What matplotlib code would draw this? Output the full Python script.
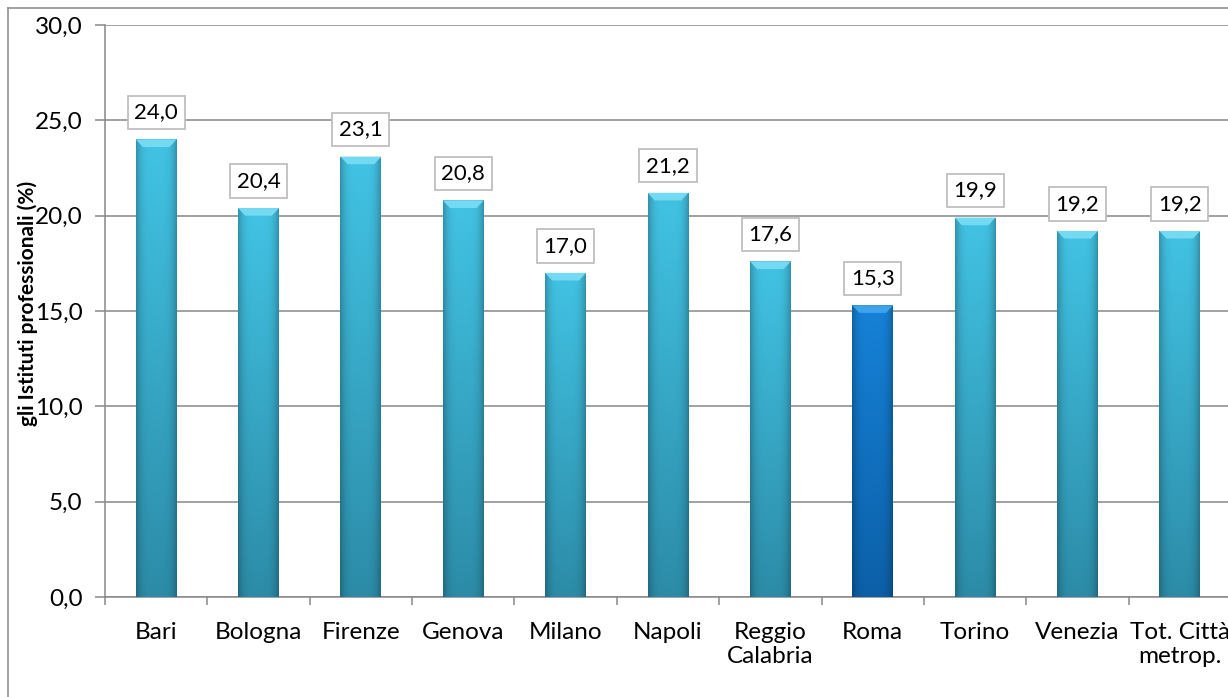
import numpy as np
import matplotlib
matplotlib.use("Agg")
import matplotlib.pyplot as plt
from matplotlib.patches import Polygon
from matplotlib.lines import Line2D

categories = ["Bari", "Bologna", "Firenze", "Genova", "Milano", "Napoli",
              "Reggio\nCalabria", "Roma", "Torino", "Venezia", "Tot. Città\nmetrop."]
values = [24.0, 20.4, 23.1, 20.8, 17.0, 21.2, 17.6, 15.3, 19.9, 19.2, 19.2]
value_labels = ["24,0", "20,4", "23,1", "20,8", "17,0", "21,2", "17,6", "15,3", "19,9", "19,2", "19,2"]
highlight = "Roma"
y_ticks = [0, 5, 10, 15, 20, 25, 30]
y_tick_labels = ["0,0", "5,0", "10,0", "15,0", "20,0", "25,0", "30,0"]
y_label = "gli Istituti professionali (%)"

plt.rcParams['font.family'] = ['Lato', 'DejaVu Sans']

fig = plt.figure(figsize=(12.28, 6.97), dpi=100)
ax = fig.add_axes([105 / 1228, 1 - 597 / 697, 1126 / 1228, (597 - 25) / 697])

x = np.arange(len(categories))
width = 0.4
ax.set_xlim(-0.5, len(categories) - 0.5)
ax.set_ylim(0, 30)


def grad_image(top, bottom, n=64):
    top = np.array(matplotlib.colors.to_rgb(top))
    bottom = np.array(matplotlib.colors.to_rgb(bottom))
    t = np.linspace(0, 1, n)[:, None]
    col = top[None, :] * (1 - t) + bottom[None, :] * t  # n x 3
    u = np.linspace(-1, 1, n)
    horiz = 1 - 0.25 * np.abs(u) ** 4
    img = col[:, None, :] * horiz[None, :, None]
    return np.clip(img, 0, 1)


grid_c = "#888888"
ax.set_yticks(y_ticks)
ax.set_yticklabels(y_tick_labels)
ax.yaxis.grid(True, color=grid_c, linewidth=1.1)
ax.set_axisbelow(True)

for i, (xi, v, cat) in enumerate(zip(x, values, categories)):
    if cat == highlight:
        top_c, bot_c, bevel_c = "#1682d8", "#0c60a8", "#3fa3ea"
    else:
        top_c, bot_c, bevel_c = "#42c3e4", "#2c8ca8", "#74d9f2"
    bars = ax.bar(xi, v, width, color="none", edgecolor="none", zorder=3)
    rect = bars[0]
    img = grad_image(top_c, bot_c)
    im = ax.imshow(img, extent=[xi - width / 2, xi + width / 2, 0, v],
                   aspect="auto", zorder=3, interpolation="bilinear")
    im.set_clip_path(rect)
    # top bevel
    bx = 0.07
    by = 0.4
    bevel = Polygon([[xi - width / 2, v], [xi + width / 2, v],
                     [xi + width / 2 - bx, v - by], [xi - width / 2 + bx, v - by]],
                    closed=True, facecolor=bevel_c, edgecolor="none", zorder=4)
    ax.add_patch(bevel)
    ax.annotate(value_labels[i], xy=(xi, v), xytext=(0, 27),
                textcoords="offset pixels", ha="center", va="center",
                fontsize=16, color="black", zorder=6,
                bbox=dict(boxstyle="square,pad=0.3", fc="white", ec="#bfbfbf", lw=1.3))

ax.set_xticks(x)
ax.set_xticklabels(categories, fontsize=17.5, linespacing=1.2)
ax.set_xticks(np.arange(-0.5, len(categories), 1), minor=True)
ax.tick_params(axis="x", which="major", length=0, pad=18)
ax.tick_params(axis="x", which="minor", length=6, color=grid_c, width=1.1)
ax.tick_params(axis="y", length=7, color=grid_c, width=1.1, labelsize=17.5, pad=9)

for s in ["top", "right"]:
    ax.spines[s].set_visible(False)
for s in ["left", "bottom"]:
    ax.spines[s].set_color(grid_c)
    ax.spines[s].set_linewidth(1.1)

fig.text(28 / 1228, 1 - 303 / 697, y_label, rotation=90, ha="center", va="center",
         fontsize=15, fontweight="bold")

# outer chart border
fig.add_artist(Line2D([8 / 1228, 8 / 1228], [0, 1 - 8 / 697], transform=fig.transFigure,
                      color="#888888", lw=1.1))
fig.add_artist(Line2D([8 / 1228, 1], [1 - 8 / 697, 1 - 8 / 697], transform=fig.transFigure,
                      color="#888888", lw=1.1))

fig.savefig("out.png", dpi=100)
